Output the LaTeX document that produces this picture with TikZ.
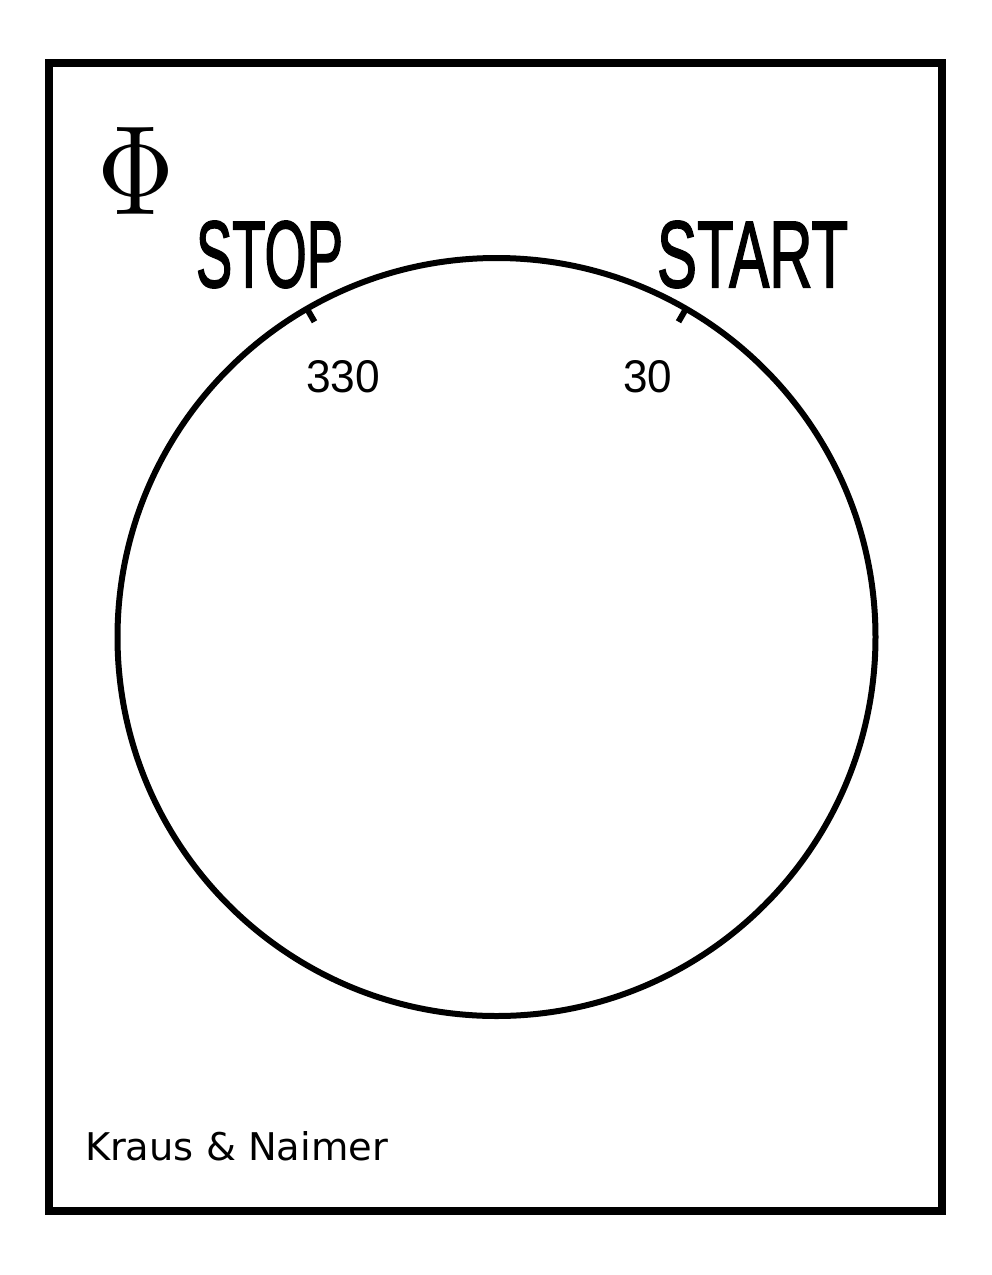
\documentclass[tikz,border=0pt]{standalone}
\usepackage{fontspec}
\usepackage{graphicx}
\setmainfont{Latin Modern Roman}
\newfontfamily\lsans{Liberation Sans}
\newfontfamily\lsanshv[FakeBold=2]{Liberation Sans}
\newfontfamily\dsans{DejaVu Sans}
\begin{document}
\begin{tikzpicture}[x=1pt,y=-1pt,
  lbl/.style={inner sep=0pt,outer sep=0pt,anchor=north west},
  frameline/.style={line width=8.5pt,draw=black},
  dialline/.style={line width=6pt,draw=black},
  tickline/.style={line width=6pt,draw=black}]
\useasboundingbox (0,0) rectangle (992,1275);
\fill[white] (0,0) rectangle (992,1275);
\draw[frameline] (49,63) rectangle (942,1211);
\coordinate (c) at (496.5,637);
\draw[dialline] (c) circle [radius=379];
\draw[tickline] (c) ++(-120:379) -- ++(60:15);
\draw[tickline] (c) ++(-60:379) -- ++(120:15);
\node[lbl] (phi) at (97,127) {\resizebox{77pt}{87pt}{$\Phi$}};
\node[lbl] (stop) at (196,221) {\resizebox{147pt}{66pt}{\lsanshv STOP}};
\node[lbl] (start) at (657,221) {\resizebox{191pt}{66pt}{\lsanshv START}};
\node[lbl] (n330) at (306,360) {\resizebox{74pt}{32pt}{\lsans 330}};
\node[lbl] (n30) at (623,360) {\resizebox{49pt}{32pt}{\lsans 30}};
\node[lbl] (kn) at (85,1131) {\resizebox{303pt}{29pt}{\dsans Kraus \& Naimer}};
\end{tikzpicture}
\end{document}
